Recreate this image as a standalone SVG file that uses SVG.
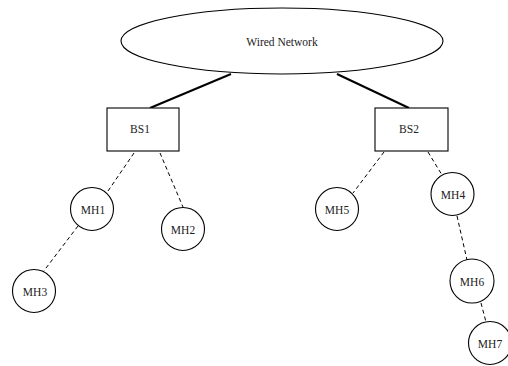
<svg xmlns="http://www.w3.org/2000/svg" width="508" height="366" viewBox="0 0 508 366">
<style>
.shape{fill:#fff;stroke:#000;stroke-width:1.1}
.lbl{font-family:"Liberation Serif","Times New Roman",serif;font-size:11.5px;fill:#222;text-anchor:middle;dominant-baseline:central}
.wire{stroke:#000;stroke-width:2;fill:none}
.wl{stroke:#000;stroke-width:1;stroke-dasharray:4,3;fill:none}
</style>
<rect width="508" height="366" fill="#fff"/>
<g id="connectors">
<line class="wire" x1="231" y1="74" x2="150" y2="108"/>
<line class="wire" x1="337" y1="74" x2="409" y2="108"/>
<line class="wl" x1="134" y1="153" x2="108" y2="191"/>
<line class="wl" x1="160" y1="153" x2="183" y2="207"/>
<line class="wl" x1="78" y1="226" x2="43" y2="272"/>
<line class="wl" x1="384" y1="152" x2="353" y2="193"/>
<line class="wl" x1="428" y1="152" x2="442" y2="175"/>
<line class="wl" x1="457" y1="216" x2="467" y2="260"/>
<line class="wl" x1="481" y1="303" x2="486" y2="322"/>
</g>
<g id="wired"><ellipse class="shape" cx="282" cy="41" rx="161" ry="33"/><text class="lbl" x="282" y="42">Wired Network</text></g>
<g id="bs1"><rect class="shape" x="107" y="108" width="72" height="43"/><text class="lbl" x="140" y="129">BS1</text></g>
<g id="bs2"><rect class="shape" x="375" y="108" width="73" height="43"/><text class="lbl" x="409" y="129">BS2</text></g>
<g id="mh1"><circle class="shape" cx="92" cy="209" r="21.5"/><text class="lbl" x="93" y="210">MH1</text></g>
<g id="mh2"><circle class="shape" cx="183" cy="229" r="21.5"/><text class="lbl" x="183" y="230">MH2</text></g>
<g id="mh3"><circle class="shape" cx="34" cy="291" r="21.5"/><text class="lbl" x="35" y="292">MH3</text></g>
<g id="mh5"><circle class="shape" cx="337" cy="209" r="21.5"/><text class="lbl" x="337" y="210">MH5</text></g>
<g id="mh4"><circle class="shape" cx="452.5" cy="194" r="21.5"/><text class="lbl" x="453" y="195">MH4</text></g>
<g id="mh6"><circle class="shape" cx="472" cy="281" r="22"/><text class="lbl" x="472" y="282">MH6</text></g>
<g id="mh7"><circle class="shape" cx="490" cy="343" r="21.5"/><text class="lbl" x="490" y="344">MH7</text></g>
</svg>
